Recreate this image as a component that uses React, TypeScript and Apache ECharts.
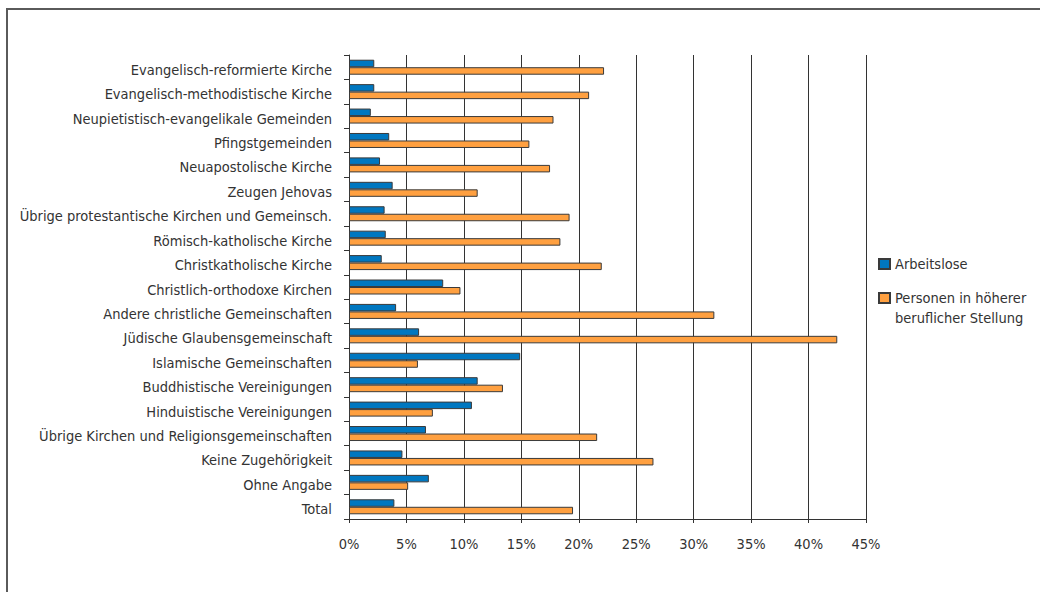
import React, { useEffect, useRef } from "react";
import * as echarts from "echarts";

const categories = [
  "Evangelisch-reformierte Kirche",
  "Evangelisch-methodistische Kirche",
  "Neupietistisch-evangelikale Gemeinden",
  "Pfingstgemeinden",
  "Neuapostolische Kirche",
  "Zeugen Jehovas",
  "Übrige protestantische Kirchen und Gemeinsch.",
  "Römisch-katholische Kirche",
  "Christkatholische Kirche",
  "Christlich-orthodoxe Kirchen",
  "Andere christliche Gemeinschaften",
  "Jüdische Glaubensgemeinschaft",
  "Islamische Gemeinschaften",
  "Buddhistische Vereinigungen",
  "Hinduistische Vereinigungen",
  "Übrige Kirchen und Religionsgemeinschaften",
  "Keine Zugehörigkeit",
  "Ohne Angabe",
  "Total",
];

const arbeitslose = [2.2, 2.2, 1.9, 3.5, 2.7, 3.8, 3.1, 3.2, 2.85, 8.2, 4.1, 6.1, 14.9, 11.2, 10.7, 6.7, 4.65, 6.95, 3.95];
const hoehereStellung = [22.2, 20.9, 17.8, 15.7, 17.5, 11.2, 19.2, 18.4, 22.0, 9.7, 31.8, 42.5, 6.0, 13.4, 7.3, 21.6, 26.5, 5.15, 19.5];

const seriesNames = ["Arbeitslose", "Personen in höherer\nberuflicher Stellung"];
const xTicks = { min: 0, max: 45, interval: 5 };

const FONT = "'DejaVu Sans Condensed', 'Liberation Sans Narrow', sans-serif";
const FS = 14.5;
const TEXT = "#333333";
const LINE = "#333333";

export default function App() {
  const ref = useRef<HTMLDivElement>(null);
  useEffect(() => {
    if (!ref.current) return;
    const chart = echarts.init(ref.current, null, { renderer: "svg" });
    chart.setOption({
      animation: false,
      backgroundColor: "#ffffff",
      textStyle: { fontFamily: FONT },
      graphic: [
        {
          type: "rect",
          shape: { x: 7, y: 9, width: 1100, height: 700 },
          style: { fill: "none", stroke: "#5a5a5a", lineWidth: 2 },
          silent: true,
        },
      ],
      grid: { left: 349, right: 174, top: 55, bottom: 73, containLabel: false },
      legend: [
        {
          data: [seriesNames[0]],
          orient: "vertical",
          left: 878,
          top: 254,
          padding: 0,
          itemWidth: 11,
          itemHeight: 10,
          icon: "rect",
          selectedMode: false,
          textStyle: { fontFamily: FONT, fontSize: FS, color: TEXT, lineHeight: 20 },
        },
        {
          data: [seriesNames[1]],
          orient: "vertical",
          left: 878,
          top: 268,
          padding: 0,
          itemWidth: 11,
          itemHeight: 10,
          icon: "rect",
          selectedMode: false,
          formatter: (name: string) => " \n" + name,
          textStyle: { fontFamily: FONT, fontSize: FS, color: TEXT, lineHeight: 20 },
        },
      ],
      xAxis: {
        type: "value",
        min: xTicks.min,
        max: xTicks.max,
        interval: xTicks.interval,
        axisLine: { show: true, lineStyle: { color: LINE, width: 1 } },
        axisTick: { show: true, length: 4, lineStyle: { color: LINE } },
        splitLine: { show: true, lineStyle: { color: LINE, width: 1 } },
        axisLabel: {
          formatter: "{value}%",
          color: TEXT,
          fontFamily: FONT,
          fontSize: FS,
          margin: 17,
        },
      },
      yAxis: {
        type: "category",
        data: categories,
        inverse: true,
        axisLine: { show: true, lineStyle: { color: LINE, width: 1 } },
        axisTick: { show: true, length: 5, lineStyle: { color: LINE } },
        axisLabel: {
          color: TEXT,
          fontFamily: FONT,
          fontSize: FS,
          margin: 17,
          verticalAlign: "top",
          lineHeight: 5,
        },
      },
      series: [
        {
          name: seriesNames[0],
          type: "bar",
          data: arbeitslose,
          barWidth: 7.5,
          barGap: "0%",
          itemStyle: { color: "#0077c0", borderColor: "#3a3a3a", borderWidth: 1 },
        },
        {
          name: seriesNames[1],
          type: "bar",
          data: hoehereStellung,
          barWidth: 7.5,
          barGap: "0%",
          itemStyle: { color: "#ffa040", borderColor: "#3a3a3a", borderWidth: 1 },
        },
      ],
    });
    return () => chart.dispose();
  }, []);
  return (
    <div
      ref={ref}
      style={{ position: "fixed", left: 0, top: 0, width: 1040, height: 592 }}
    />
  );
}
